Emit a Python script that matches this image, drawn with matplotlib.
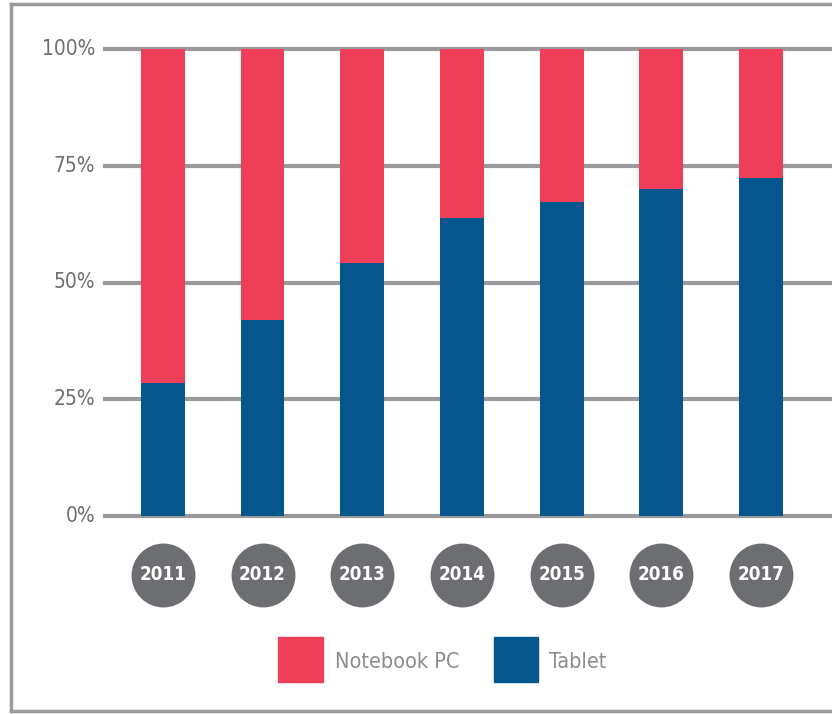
import numpy as np
import matplotlib.pyplot as plt
from matplotlib.patches import Rectangle
from matplotlib.lines import Line2D

years = ['2011', '2012', '2013', '2014', '2015', '2016', '2017']
tablet = [28.5, 42.0, 54.2, 63.8, 67.2, 70.0, 72.4]
notebook = [100 - t for t in tablet]
yticks = [0, 25, 50, 75, 100]
ylabels = ['0%', '25%', '50%', '75%', '100%']

red = '#EF3F58'
blue = '#06568E'
grid_col = '#9A9A9C'
txt_col = '#6E6E70'

W, H = 832, 714
fig = plt.figure(figsize=(W / 100, H / 100), dpi=100)

# zone du graphique en pixels
x0, x1 = 105, 832
y0, y100 = 516, 49
ax = fig.add_axes([x0 / W, 1 - y0 / H, (x1 - x0) / W, (y0 - y100) / H])
ax.set_ylim(0, 100)
ax.set_xlim(-0.58, -0.58 + (x1 - x0) / 99.7)
ax.axis('off')

for t, lab in zip(yticks, ylabels):
    ax.axhline(t, color=grid_col, lw=3, zorder=1, clip_on=False)
    ax.text(-0.68, t, lab, ha='right', va='center',
            fontsize=15, color=txt_col, fontstretch='condensed')

x = np.arange(len(years))
ax.bar(x, tablet, width=0.44, color=blue, zorder=2)
ax.bar(x, notebook, bottom=tablet, width=0.44, color=red, zorder=2)

# pastilles des annees
yc = -(575 - y0) / (y0 - y100) * 100
ax.scatter(x, [yc] * len(x), s=46 ** 2, color='#6D6E71', clip_on=False, zorder=3, lw=0)
for i, yr in enumerate(years):
    ax.text(x[i], yc, yr, ha='center', va='center', color='white',
            fontsize=13.5, fontweight='bold', fontstretch='condensed', zorder=4)

# legende
fig.patches.append(Rectangle((278 / W, 1 - 682 / H), 45 / W, 45 / H,
                             transform=fig.transFigure, color=red))
fig.patches.append(Rectangle((494 / W, 1 - 682 / H), 44 / W, 45 / H,
                             transform=fig.transFigure, color=blue))
fig.text(335 / W, 1 - 662 / H, 'Notebook PC', ha='left', va='center',
         fontsize=15.5, color='#8C8C8E', fontstretch='condensed')
fig.text(549 / W, 1 - 662 / H, 'Tablet', ha='left', va='center',
         fontsize=15.5, color='#8C8C8E', fontstretch='condensed')

# cadre
for xs, ys in [([11, 11], [4, 711]), ([11, W], [4, 4]), ([11, W], [711, 711])]:
    fig.lines.append(Line2D([v / W for v in xs], [1 - v / H for v in ys],
                            transform=fig.transFigure, color=grid_col, lw=2.5))

fig.savefig('out.png', dpi=100)
